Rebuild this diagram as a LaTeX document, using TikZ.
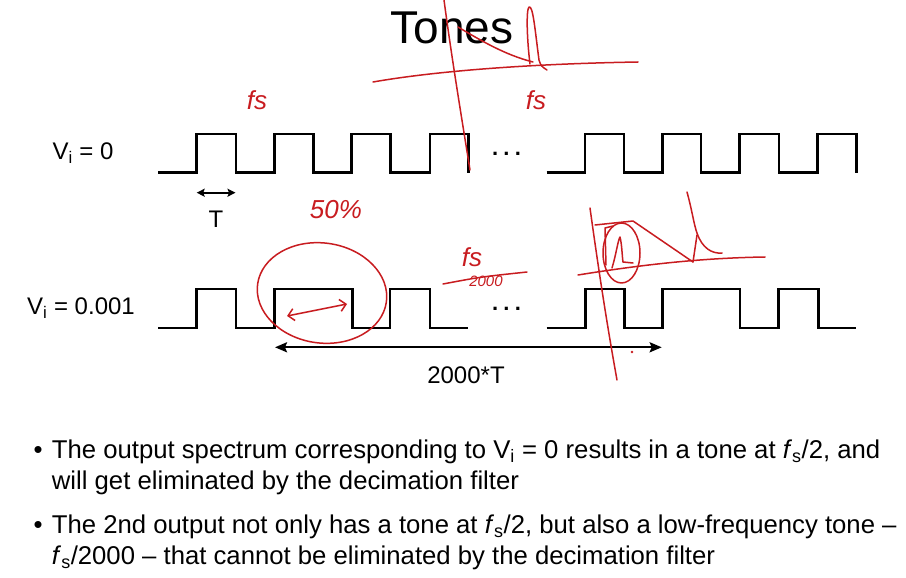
\documentclass[tikz,border=0pt]{standalone}
\usepackage{fontspec}
\setmainfont{Liberation Sans}
\usetikzlibrary{arrows.meta}
\definecolor{ink}{RGB}{200,28,32}
\begin{document}
\begin{tikzpicture}[x=1pt,y=-1pt,
  wave/.style={draw=black,line width=2.7pt,line join=miter,line cap=butt},
  redink/.style={draw=ink,line width=1.5pt,line cap=round,line join=round},
  redtext/.style={text=ink,font=\fontsize{26}{28}\selectfont\itshape,inner sep=0pt},
  lbl/.style={font=\fontsize{24}{28}\selectfont,inner sep=0pt},
  btext/.style={font=\fontsize{25.7}{30}\selectfont,inner sep=0pt,anchor=base west},
  bdot/.style={font=\fontsize{25.7}{30}\selectfont,inner sep=0pt,anchor=base},
  dots/.style={font=\fontsize{22}{24}\selectfont\bfseries,inner sep=0pt,anchor=base},
  dimarrow/.style={line width=2.2pt,{Stealth[length=12pt,width=10pt,inset=2pt]}-{Stealth[length=12pt,width=10pt,inset=2pt]}},
  tarrow/.style={line width=1.8pt,{Stealth[length=8pt,width=8pt,inset=1.5pt]}-{Stealth[length=8pt,width=8pt,inset=1.5pt]}},
]
\fill[white] (0,0) rectangle (906,578);
\useasboundingbox (0,0) rectangle (906,578);

% title
\node[font=\fontsize{46}{50}\selectfont,inner sep=0pt,anchor=base] (title) at (452,44) {Tones};

% labels
\node[lbl,anchor=base] (v0) at (83,160) {V\textsubscript{i} = 0};
\node[lbl,anchor=base] (v1) at (81,314.3) {V\textsubscript{i} = 0.001};

% waveform 1
\draw[wave] (158,172.5) -- (196.7,172.5) -- (196.7,134) -- (236,134) -- (236,172.5) -- (274.3,172.5) -- (274.3,134) -- (313.3,134) -- (313.3,172.5) -- (351.7,172.5) -- (351.7,134) -- (390.7,134) -- (390.7,172.5) -- (430,172.5) -- (430,134) -- (468.3,134) -- (468.3,172.5);
\draw[wave] (546.7,172.5) -- (585,172.5) -- (585,134) -- (624,134) -- (624,172.5) -- (662.3,172.5) -- (662.3,134) -- (701,134) -- (701,172.5) -- (739.3,172.5) -- (739.3,134) -- (779,134) -- (779,172.5) -- (817.3,172.5) -- (817.3,134) -- (856.7,134) -- (856.7,172.5);
\node[dots] (dots1) at (506.5,155) {.\hspace{5.2pt}.\hspace{5.2pt}.};

% T arrow
\coordinate (tL) at (196.7,192.7);
\coordinate (tR) at (235.5,192.7);
\draw[tarrow] (tL) -- (tR);
\node[lbl,anchor=base] (Tlbl) at (216,227) {T};

% waveform 2
\draw[wave] (158,328) -- (196.7,328) -- (196.7,289) -- (236,289) -- (236,328) -- (274.3,328) -- (274.3,289) -- (352.7,289) -- (352.7,328) -- (390,328) -- (390,289) -- (430,289) -- (430,328) -- (468.3,328);
\draw[wave] (546.7,328) -- (585.3,328) -- (585.3,289) -- (624.3,289) -- (624.3,328) -- (662.3,328) -- (662.3,289) -- (740,289) -- (740,328) -- (778.3,328) -- (778.3,289) -- (818.3,289) -- (818.3,328) -- (856,328);
\node[dots] (dots2) at (506.5,310) {.\hspace{5.2pt}.\hspace{5.2pt}.};

% 2000*T arrow
\coordinate (nL) at (275,347.3);
\coordinate (nR) at (661.7,347.3);
\draw[dimarrow] (nL) -- (nR);
\node[lbl,anchor=base] (NT) at (466,383) {2000*T};

% bullets
\node[bdot] (bd1) at (38,458.3) {•};
\node[btext] (b1a) at (51.7,458.3) {The output spectrum corresponding to V\textsubscript{i} = 0 results in a tone at \textit{f}\textsubscript{s}/2, and};
\node[btext] (b1b) at (51.7,489.3) {will get eliminated by the decimation filter};
\node[bdot] (bd2) at (38,533.3) {•};
\node[btext] (b2a) at (51.7,533.3) {The 2nd output not only has a tone at \textit{f}\textsubscript{s}/2, but also a low-frequency tone –};
\node[btext] (b2b) at (51.7,564.3) {\textit{f}\textsubscript{s}/2000 – that cannot be eliminated by the decimation filter};

% ---- red annotations ----
% top spectrum sketch
\draw[redink] (373,82) .. controls (430,72) and (520,64) .. (638,62);
\draw[redink] (444,0) .. controls (452,60) and (462,120) .. (470,170);
\draw[redink] (458,27) .. controls (480,40) and (505,55) .. (533,62);
\draw[redink] (530,64) .. controls (527,40) and (526,10) .. (529,7) .. controls (533,5) and (535,30) .. (539,60) .. controls (541,66) .. (547,70);
\node[redtext] (fsA) at (536,100) {fs};
\node[redtext] (fsB) at (257,100) {fs};
\node[redtext] (pct) at (336,210) {50\%};

% circle around wide pulse
\draw[redink,rotate around={-8:(322,293)}] (322,293) ellipse [x radius=65, y radius=50];
\draw[redink,{Straight Barb[length=6pt]}-{Straight Barb[length=6pt]}] (287,316) -- (347,304);

% fs/2000
\node[redtext] (fsC) at (472,257) {fs};
\draw[redink] (443,284) .. controls (480,277) .. (527,272);
\node[redtext,font=\fontsize{15}{17}\selectfont\itshape] (frac) at (486,281) {2000};

% right spectrum sketch
\draw[redink] (590,208) .. controls (600,280) and (608,330) .. (617,380);
\draw[redink] (578,275) .. controls (640,265) and (700,258) .. (765,257);
\draw[redink] (612,268) .. controls (616,255) and (618,240) .. (620,237) .. controls (622,245) and (622,255) .. (623,262) -- (633,263);
\draw[redink] (621.5,253) ellipse [x radius=18.5, y radius=30];
\draw[redink] (613,226) -- (605,228) -- (606,265);
\draw[redink] (595,225) -- (633,221) -- (693,262);
\draw[redink] (687,192) .. controls (692,210) and (694,225) .. (697,233) .. controls (702,248) and (712,254) .. (722,253);
\draw[redink] (693,262) -- (697,235);
\fill[ink] (632,352) circle (1.3);
\end{tikzpicture}
\end{document}
